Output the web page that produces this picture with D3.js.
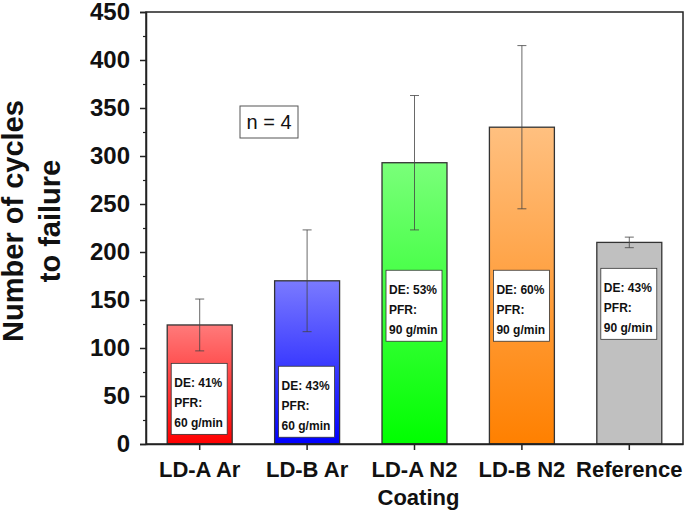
<!DOCTYPE html>
<html>
<head>
<meta charset="utf-8">
<script src="https://cdn.jsdelivr.net/npm/d3@7"></script>
<style>
  html, body { margin: 0; padding: 0; background: #fff; }
  svg { display: block; font-family: "Liberation Sans", Arial, sans-serif; }
</style>
</head>
<body>
<svg id="chart" width="685" height="519"></svg>
<script>
// ---- data ----
const categories = ["LD-A Ar", "LD-B Ar", "LD-A N2", "LD-B N2", "Reference"];
const means = [124, 170, 293, 330, 210];
const errors = [27, 53, 70, 85, 5.5];
const deLabels = ["DE: 41%", "DE: 43%", "DE: 53%", "DE: 60%", "DE: 43%"];
const pfrLabels = ["60 g/min", "60 g/min", "90 g/min", "90 g/min", "90 g/min"];
const labelTopValues = [84, 81, 181, 181, 183];
const topColors = ["#ff7a7a", "#7a7aff", "#7aff7a", "#ffc080", "#c0c0c0"];
const bottomColors = ["#ff0000", "#0000ff", "#00ff00", "#ff8000", "#c0c0c0"];
const yTicks = [0, 50, 100, 150, 200, 250, 300, 350, 400, 450];
const yMinorTicks = [25, 75, 125, 175, 225, 275, 325, 375, 425];
const yTitleLines = ["Number of cycles", "to failure"];
const xTitle = "Coating";
const noteText = "n = 4";

// ---- layout ----
const W = 685, H = 519;
const margin = { left: 146, top: 12, right: 2, bottom: 75 };
const svg = d3.select("#chart");
const x = d3.scaleBand().domain(categories)
  .range([margin.left, W - margin.right])
  .paddingInner(0.395).paddingOuter(0.1975);
const y = d3.scaleLinear().domain([0, 450]).range([H - margin.bottom, margin.top]);

const defs = svg.append("defs");
categories.forEach((c, i) => {
  const g = defs.append("linearGradient").attr("id", "grad" + i)
    .attr("x1", 0).attr("y1", 0).attr("x2", 0).attr("y2", 1);
  g.append("stop").attr("offset", "0%").attr("stop-color", topColors[i]);
  g.append("stop").attr("offset", "100%").attr("stop-color", bottomColors[i]);
});

// bars
svg.append("g").selectAll("rect").data(categories).join("rect")
  .attr("x", d => x(d))
  .attr("y", (d, i) => y(means[i]))
  .attr("width", x.bandwidth())
  .attr("height", (d, i) => y(0) - y(means[i]))
  .attr("fill", (d, i) => `url(#grad${i})`)
  .attr("stroke", "#333")
  .attr("stroke-width", 1.3);

// annotation boxes inside bars
const boxes = svg.append("g").selectAll("g").data(categories).join("g")
  .attr("transform", (d, i) => `translate(${x(d) + 4},${y(labelTopValues[i])})`);
boxes.append("rect")
  .attr("width", x.bandwidth() - 9).attr("height", 71)
  .attr("fill", "#fff").attr("stroke", "#333").attr("stroke-width", 0.8);
boxes.each(function(d, i) {
  const g = d3.select(this);
  [deLabels[i], "PFR:", pfrLabels[i]].forEach((t, k) => {
    g.append("text").attr("x", 3).attr("y", 24 + 20 * k)
      .attr("font-size", 12).attr("font-weight", "bold").attr("fill", "#111")
      .text(t);
  });
});

// error bars
const eb = svg.append("g").attr("stroke", "#444").attr("stroke-width", 1).attr("stroke-opacity", 0.8);
categories.forEach((c, i) => {
  const cx = x(c) + x.bandwidth() / 2;
  const lo = y(means[i] - errors[i]), hi = y(means[i] + errors[i]);
  eb.append("line").attr("x1", cx).attr("x2", cx).attr("y1", lo).attr("y2", hi);
  eb.append("line").attr("x1", cx - 4.5).attr("x2", cx + 4.5).attr("y1", lo).attr("y2", lo);
  eb.append("line").attr("x1", cx - 4.5).attr("x2", cx + 4.5).attr("y1", hi).attr("y2", hi);
});

// frame
svg.append("rect")
  .attr("x", margin.left).attr("y", margin.top)
  .attr("width", W - margin.right - margin.left)
  .attr("height", y(0) - margin.top)
  .attr("fill", "none").attr("stroke", "#222").attr("stroke-width", 1.5);

// y axis
const yAxis = svg.append("g").attr("transform", `translate(${margin.left},0)`)
  .call(d3.axisLeft(y).tickValues(yTicks).tickSize(6).tickPadding(10).tickFormat(d3.format("d")));
yAxis.select(".domain").attr("stroke", "#222").attr("stroke-width", 1.5);
yAxis.selectAll(".tick line").attr("stroke", "#222").attr("stroke-width", 1.5);
yAxis.selectAll(".tick text").attr("font-size", 24).attr("font-weight", "bold")
  .attr("fill", "#111").attr("font-family", "Liberation Sans, Arial, sans-serif");
const yMinor = svg.append("g").attr("transform", `translate(${margin.left},0)`)
  .call(d3.axisLeft(y).tickValues(yMinorTicks).tickSize(3).tickFormat(""));
yMinor.select(".domain").remove();
yMinor.selectAll(".tick line").attr("stroke", "#222").attr("stroke-width", 1.2);

// x axis
const xAxis = svg.append("g").attr("transform", `translate(0,${y(0)})`)
  .call(d3.axisBottom(x).tickSize(6).tickPadding(10).tickSizeOuter(0));
xAxis.select(".domain").attr("stroke", "#222").attr("stroke-width", 1.5);
xAxis.selectAll(".tick line").attr("stroke", "#222").attr("stroke-width", 1.5);
xAxis.selectAll(".tick text").attr("font-size", 22).attr("font-weight", "bold")
  .attr("fill", "#111").attr("font-family", "Liberation Sans, Arial, sans-serif")
  .attr("dy", null).attr("y", 33);

// axis titles
svg.append("text")
  .attr("x", (margin.left + W - margin.right) / 2 + 4).attr("y", 505)
  .attr("text-anchor", "middle").attr("font-size", 22).attr("font-weight", "bold")
  .attr("fill", "#111").text(xTitle);

const yt = svg.append("g").attr("transform", "translate(0,221) rotate(-90)");
yTitleLines.forEach((t, k) => {
  yt.append("text").attr("x", 0).attr("y", 23 + 37 * k)
    .attr("text-anchor", "middle").attr("font-size", 29).attr("font-weight", "bold")
    .attr("fill", "#111").text(t);
});

// n = 4 note
const note = svg.append("g").attr("transform", "translate(240,106)");
note.append("rect").attr("width", 58).attr("height", 32)
  .attr("fill", "#fff").attr("stroke", "#555").attr("stroke-width", 1);
note.append("text").attr("x", 29).attr("y", 23).attr("text-anchor", "middle")
  .attr("font-size", 20).attr("fill", "#111").text(noteText);
</script>
</body>
</html>
